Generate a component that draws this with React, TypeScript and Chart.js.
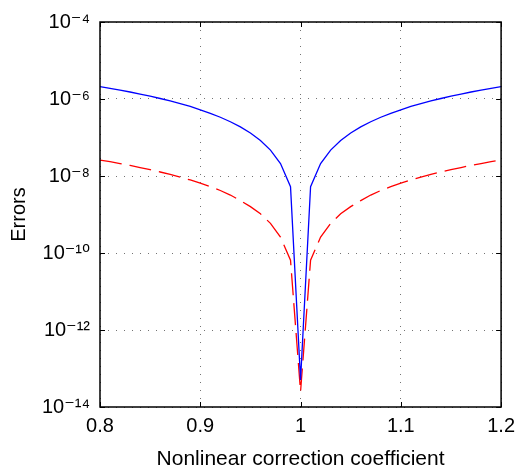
import React, { useEffect, useRef } from "react";
import { Chart, registerables } from "chart.js";

Chart.register(...registerables);

const coefficients = [
  0.8, 0.81, 0.82, 0.83, 0.84, 0.85, 0.86, 0.87, 0.88, 0.89, 0.9, 0.91, 0.92, 0.93, 0.94, 0.95, 0.96, 0.97, 0.98, 0.99,
  1.0,
  1.01, 1.02, 1.03, 1.04, 1.05, 1.06, 1.07, 1.08, 1.09, 1.1, 1.11, 1.12, 1.13, 1.14, 1.15, 1.16, 1.17, 1.18, 1.19, 1.2,
];

const blueErrors = [
  2.1e-6, 1.9e-6, 1.7e-6, 1.52e-6, 1.34e-6, 1.18e-6, 1.03e-6, 8.9e-7, 7.6e-7, 6.4e-7, 5.25e-7, 4.25e-7, 3.36e-7, 2.57e-7, 1.89e-7, 1.31e-7, 8.4e-8, 4.7e-8, 2.1e-8, 5.25e-9,
  5e-14,
  5.25e-9, 2.1e-8, 4.7e-8, 8.4e-8, 1.31e-7, 1.89e-7, 2.57e-7, 3.36e-7, 4.25e-7, 5.25e-7, 6.4e-7, 7.6e-7, 8.9e-7, 1.03e-6, 1.18e-6, 1.34e-6, 1.52e-6, 1.7e-6, 1.9e-6, 2.1e-6,
];

const redErrors = [
  2.6e-8, 2.35e-8, 2.11e-8, 1.88e-8, 1.66e-8, 1.46e-8, 1.27e-8, 1.1e-8, 9.4e-9, 7.9e-9, 6.5e-9, 5.3e-9, 4.2e-9, 3.2e-9, 2.3e-9, 1.6e-9, 1.04e-9, 5.9e-10, 2.6e-10, 6.5e-11,
  2.5e-14,
  6.5e-11, 2.6e-10, 5.9e-10, 1.04e-9, 1.6e-9, 2.3e-9, 3.2e-9, 4.2e-9, 5.3e-9, 6.5e-9, 7.9e-9, 9.4e-9, 1.1e-8, 1.27e-8, 1.46e-8, 1.66e-8, 1.88e-8, 2.11e-8, 2.35e-8, 2.6e-8,
];

const xTickValues = [0.8, 0.9, 1.0, 1.1, 1.2];
const xTickLabels = ["0.8", "0.9", "1", "1.1", "1.2"];
const yTickValues = [1e-14, 1e-12, 1e-10, 1e-8, 1e-6, 1e-4];
const yTickLabels = ["10\u207B\u00B9\u2074", "10\u207B\u00B9\u00B2", "10\u207B\u00B9\u2070", "10\u207B\u2078", "10\u207B\u2076", "10\u207B\u2074"];

const xTitle = "Nonlinear correction coefficient";
const yTitle = "Errors";

const FONT = "'Liberation Sans', Arial, Helvetica, 'DejaVu Sans', sans-serif";

const boxPlugin = {
  id: "matlabBox",
  afterDatasetsDraw(chart: any) {
    const { ctx, chartArea } = chart;
    const { left, right, top, bottom } = chartArea;
    const xs = chart.scales.x;
    const ys = chart.scales.y;
    const tl = 5;
    ctx.save();
    ctx.strokeStyle = "#000";
    ctx.lineWidth = 1;
    ctx.beginPath();
    xTickValues.forEach((v) => {
      const px = Math.round(xs.getPixelForValue(v)) + 0.5;
      ctx.moveTo(px, bottom);
      ctx.lineTo(px, bottom - tl);
      ctx.moveTo(px, top);
      ctx.lineTo(px, top + tl);
    });
    yTickValues.forEach((v) => {
      const py = Math.round(ys.getPixelForValue(v)) + 0.5;
      ctx.moveTo(left, py);
      ctx.lineTo(left + tl, py);
      ctx.moveTo(right, py);
      ctx.lineTo(right - tl, py);
    });
    ctx.stroke();
    ctx.lineWidth = 1.5;
    ctx.beginPath();
    ctx.rect(left, top, right - left, bottom - top);
    ctx.stroke();
    ctx.restore();
  },
};

export default function App() {
  const canvasRef = useRef<HTMLCanvasElement | null>(null);

  useEffect(() => {
    const canvas = canvasRef.current;
    if (!canvas) return;
    const chart = new Chart(canvas, {
      type: "line",
      data: {
        datasets: [
          {
            label: "blue",
            data: coefficients.map((c, i) => ({ x: c, y: blueErrors[i] })),
            borderColor: "#0000ff",
            borderWidth: 1.3,
            pointRadius: 0,
            tension: 0,
            fill: false,
          },
          {
            label: "red",
            data: coefficients.map((c, i) => ({ x: c, y: redErrors[i] })),
            borderColor: "#ff0000",
            borderWidth: 1.3,
            borderDash: [22, 8],
            pointRadius: 0,
            tension: 0,
            fill: false,
          },
        ],
      },
      options: {
        responsive: false,
        animation: false,
        devicePixelRatio: 1,
        layout: { padding: { left: 0, top: 14, right: 16, bottom: 0 } },
        plugins: { legend: { display: false }, tooltip: { enabled: false } },
        scales: {
          x: {
            type: "linear",
            min: 0.8,
            max: 1.2,
            afterBuildTicks: (scale: any) => {
              scale.ticks = xTickValues.map((v) => ({ value: v }));
            },
            afterFit: (scale: any) => {
              scale.height = 65;
            },
            ticks: {
              color: "#000",
              font: { family: FONT, size: 20 },
              padding: 7,
              maxRotation: 0,
              autoSkip: false,
              callback: (_v: any, i: number) => xTickLabels[i],
            },
            grid: { color: "rgba(0,0,0,0.55)", lineWidth: 1, drawTicks: false },
            border: { display: false, dash: [1, 7] },
            title: {
              display: true,
              text: xTitle,
              color: "#000",
              font: { family: FONT, size: 21 },
              padding: { top: 0, bottom: 0 },
            },
          },
          y: {
            type: "logarithmic",
            min: 1e-14,
            max: 1e-4,
            afterBuildTicks: (scale: any) => {
              scale.ticks = yTickValues.map((v) => ({ value: v }));
            },
            afterFit: (scale: any) => {
              scale.width = 100;
            },
            ticks: {
              color: "#000",
              font: { family: FONT, size: 20 },
              padding: 10,
              autoSkip: false,
              callback: (_v: any, i: number) => yTickLabels[i],
            },
            grid: { color: "rgba(0,0,0,0.55)", lineWidth: 1, drawTicks: false },
            border: { display: false, dash: [1, 7] },
            title: {
              display: true,
              text: yTitle,
              color: "#000",
              font: { family: FONT, size: 20 },
              padding: { top: 7, bottom: 0 },
            },
          },
        },
      },
      plugins: [boxPlugin],
    });
    return () => chart.destroy();
  }, []);

  return (
    <div style={{ position: "fixed", left: 0, top: 0, width: 522, height: 472, background: "#fff" }}>
      <canvas ref={canvasRef} width={522} height={472} style={{ width: 522, height: 472 }} />
    </div>
  );
}
